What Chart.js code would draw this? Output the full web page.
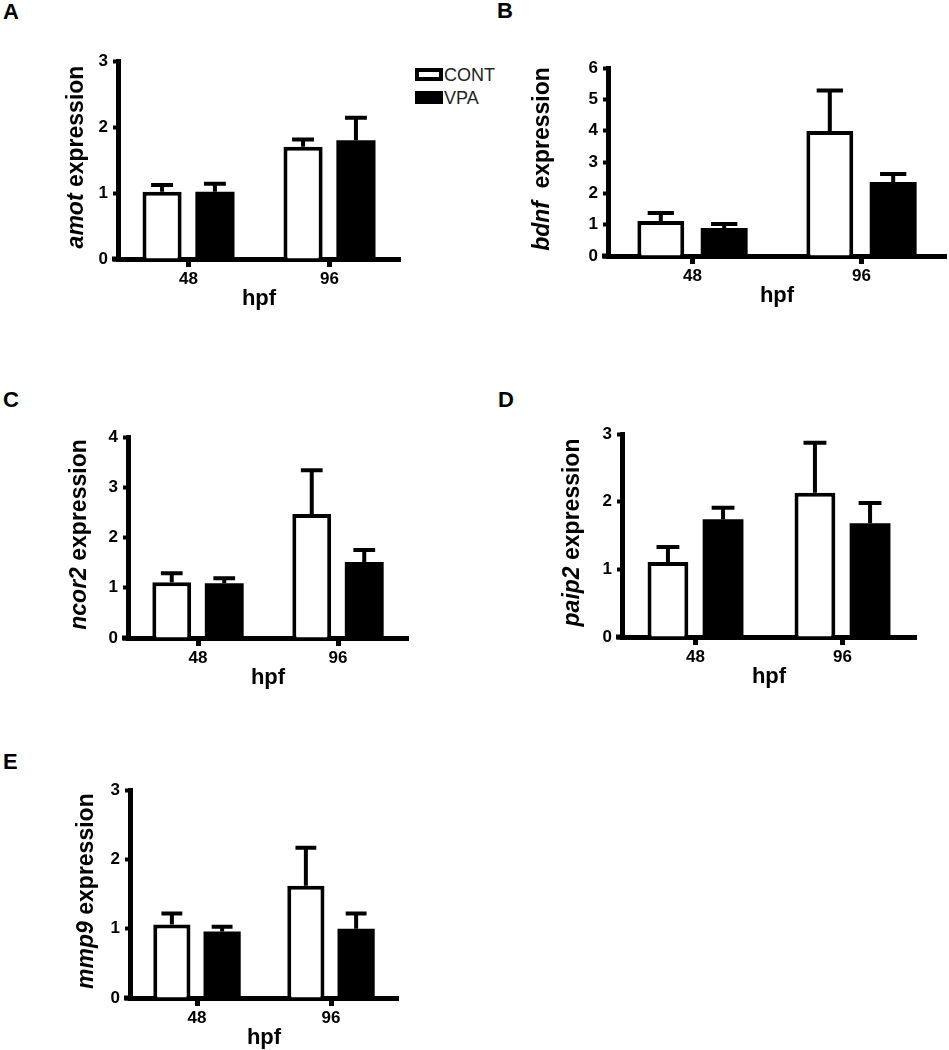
<!DOCTYPE html>
<html>
<head>
<meta charset="utf-8">
<title>Gene expression at 48 and 96 hpf</title>
<script src="https://cdn.jsdelivr.net/npm/chart.js@4.4.1/dist/chart.umd.min.js"></script>
<style>
  body {
    margin: 0;
    width: 949px;
    height: 1050px;
    position: relative;
    overflow: hidden;
    background: #fff;
    font-family: "Liberation Sans", Arial, sans-serif;
  }
  canvas { position: absolute; }
  .letter {
    position: absolute;
    font-weight: bold;
    font-size: 22px;
    line-height: 22px;
    color: #000;
  }
  .key-box {
    position: absolute;
    width: 28px;
    height: 13px;
    box-sizing: border-box;
    border: 4px solid #000;
  }
  .key-text {
    position: absolute;
    font-size: 18px;
    line-height: 18px;
    color: #222;
  }
</style>
</head>
<body>
<div class="letter" style="left:3px;top:1px">A</div>
<div class="letter" style="left:497px;top:0px">B</div>
<div class="letter" style="left:3px;top:389px">C</div>
<div class="letter" style="left:498px;top:389px">D</div>
<div class="letter" style="left:3px;top:751px">E</div>

<div class="key-box" style="left:415px;top:68px;background:#fff"></div>
<div class="key-text" style="left:444px;top:66px">CONT</div>
<div class="key-box" style="left:415px;top:91px;background:#000"></div>
<div class="key-text" style="left:444px;top:89px">VPA</div>

<script>
const FONT = '"Liberation Sans", Arial, sans-serif'

// hours post fertilisation
const hpf = ['48', '96']

// mean relative expression and SEM
const amotCont = [1.02, 1.70]
const amotContSem = [0.10, 0.11]
const amotVpa = [1.02, 1.80]
const amotVpaSem = [0.12, 0.34]

const bdnfCont = [1.12, 3.99]
const bdnfContSem = [0.25, 1.29]
const bdnfVpa = [0.89, 2.36]
const bdnfVpaSem = [0.13, 0.26]

const ncor2Cont = [1.11, 2.47]
const ncor2ContSem = [0.18, 0.87]
const ncor2Vpa = [1.09, 1.51]
const ncor2VpaSem = [0.10, 0.24]

const paip2Cont = [1.11, 2.13]
const paip2ContSem = [0.22, 0.74]
const paip2Vpa = [1.74, 1.68]
const paip2VpaSem = [0.17, 0.30]

const mmp9Cont = [1.06, 1.62]
const mmp9ContSem = [0.16, 0.55]
const mmp9Vpa = [0.96, 1.00]
const mmp9VpaSem = [0.07, 0.22]

// y axis maxima (ticks every 1)
const yMax = { amot: 3, bdnf: 6, ncor2: 4, paip2: 3, mmp9: 3 }

// canvas box, plot area and y-title position, all in page pixels
const panels = [
  { gene: 'amot', cont: amotCont, contSem: amotContSem, vpa: amotVpa, vpaSem: amotVpaSem,
    x: 0, y: 30, w: 470, h: 300, area: { left: 118, right: 400, top: 61, bottom: 259 }, titleX: 77, gap: 0 },
  { gene: 'bdnf', cont: bdnfCont, contSem: bdnfContSem, vpa: bdnfVpa, vpaSem: bdnfVpaSem,
    x: 470, y: 30, w: 479, h: 300, area: { left: 608, right: 946, top: 68, bottom: 256 }, titleX: 543, gap: 6 },
  { gene: 'ncor2', cont: ncor2Cont, contSem: ncor2ContSem, vpa: ncor2Vpa, vpaSem: ncor2VpaSem,
    x: 0, y: 410, w: 470, h: 300, area: { left: 128, right: 408, top: 437, bottom: 638 }, titleX: 80, gap: 0 },
  { gene: 'paip2', cont: paip2Cont, contSem: paip2ContSem, vpa: paip2Vpa, vpaSem: paip2VpaSem,
    x: 470, y: 410, w: 479, h: 300, area: { left: 622, right: 916, top: 434, bottom: 637 }, titleX: 573, gap: 0 },
  { gene: 'mmp9', cont: mmp9Cont, contSem: mmp9ContSem, vpa: mmp9Vpa, vpaSem: mmp9VpaSem,
    x: 0, y: 775, w: 470, h: 275, area: { left: 130, right: 398, top: 789, bottom: 998 }, titleX: 87, gap: 0 }
]

// upward SEM whiskers with a cap, GraphPad style
const errorBars = {
  id: 'errorBars',
  afterDatasetsDraw (chart) {
    const ctx = chart.ctx
    const yScale = chart.scales.y
    ctx.save()
    ctx.strokeStyle = '#000'
    ctx.lineWidth = 4
    chart.data.datasets.forEach((ds, i) => {
      chart.getDatasetMeta(i).data.forEach((bar, j) => {
        const top = yScale.getPixelForValue(ds.data[j] + ds.sem[j])
        const half = bar.width * 0.28
        ctx.beginPath()
        ctx.moveTo(bar.x, bar.y)
        ctx.lineTo(bar.x, top)
        ctx.moveTo(bar.x - half, top)
        ctx.lineTo(bar.x + half, top)
        ctx.stroke()
      })
    })
    // x axis pokes out a little left of the y axis
    const a = chart.chartArea
    ctx.fillStyle = '#000'
    ctx.fillRect(a.left - 6, a.bottom - 2.5, 8, 5)
    ctx.restore()
  }
}

function makePanel (p) {
  const canvas = document.createElement('canvas')
  canvas.width = p.w
  canvas.height = p.h
  canvas.style.left = p.x + 'px'
  canvas.style.top = p.y + 'px'
  document.body.appendChild(canvas)

  const yWidth = p.area.left - p.x
  const xHeight = p.y + p.h - p.area.bottom

  // italic gene name + plain "expression", rotated
  const yTitle = {
    id: 'yTitle',
    afterDraw (chart) {
      const ctx = chart.ctx
      const a = chart.chartArea
      const italic = 'italic bold 23px ' + FONT
      const plain = 'bold 23px ' + FONT
      ctx.save()
      ctx.font = italic
      const w1 = ctx.measureText(p.gene).width + p.gap
      ctx.font = plain
      const w2 = ctx.measureText(' expression').width
      ctx.translate(p.titleX - p.x, (a.top + a.bottom) / 2 - 3)
      ctx.rotate(-Math.PI / 2)
      ctx.fillStyle = '#000'
      ctx.textBaseline = 'middle'
      ctx.textAlign = 'left'
      const start = -(w1 + w2) / 2
      ctx.font = italic
      ctx.fillText(p.gene, start, 0)
      ctx.font = plain
      ctx.fillText(' expression', start + w1, 0)
      ctx.restore()
    }
  }

  new Chart(canvas, {
    type: 'bar',
    data: {
      labels: hpf,
      datasets: [
        { label: 'CONT', data: p.cont, sem: p.contSem, backgroundColor: '#fff', borderColor: '#000', borderWidth: 4 },
        { label: 'VPA', data: p.vpa, sem: p.vpaSem, backgroundColor: '#000', borderWidth: 0 }
      ]
    },
    options: {
      responsive: false,
      animation: false,
      devicePixelRatio: 1,
      layout: { padding: { left: 0, top: p.area.top - p.y, right: p.x + p.w - p.area.right, bottom: 0 } },
      datasets: { bar: { categoryPercentage: 0.75, barPercentage: 0.74 } },
      plugins: { legend: { display: false }, tooltip: { enabled: false } },
      scales: {
        x: {
          grid: { offset: false, drawOnChartArea: false, color: '#000', tickLength: 8, tickWidth: 5 },
          border: { display: true, color: '#000', width: 5 },
          ticks: { color: '#000', padding: 2, font: { family: FONT, size: 17, weight: 'bold' } },
          title: {
            display: true,
            text: 'hpf',
            color: '#000',
            font: { family: FONT, size: 22, weight: 'bold' },
            padding: { top: 0, bottom: xHeight - 53 }
          },
          afterFit: s => { s.height = xHeight }
        },
        y: {
          min: 0,
          max: yMax[p.gene],
          grid: { drawOnChartArea: false, color: '#000', tickLength: 5, tickWidth: 4 },
          border: { display: true, color: '#000', width: 5 },
          ticks: { stepSize: 1, color: '#000', padding: 5, font: { family: FONT, size: 17, weight: 'bold' } },
          afterFit: s => { s.width = yWidth }
        }
      }
    },
    plugins: [errorBars, yTitle]
  })
}

panels.forEach(makePanel)
</script>
</body>
</html>
